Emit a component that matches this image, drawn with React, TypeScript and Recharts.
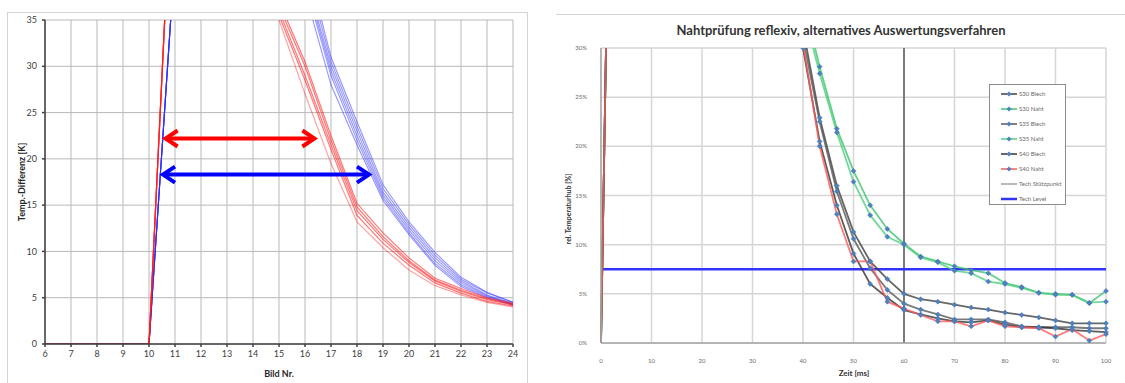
import { CartesianGrid, Legend, Line, LineChart, ReferenceLine, XAxis, YAxis } from "recharts";

// ---- left chart: Temp.-Differenz over Bild Nr.
const bildNr = [6, 7, 8, 9, 10, 11, 12, 13, 14, 15, 16, 17, 18, 19, 20, 21, 22, 23, 24];
const redRuns = [
  [0, 0, 0, 0, 0, 58, 55, 50, 43, 37, 30.5, 22.5, 15.2, 12.0, 9.3, 7.1, 6.0, 5.0, 4.4],
  [0, 0, 0, 0, 0, 58, 54, 49, 42.5, 36.5, 30, 22, 14.8, 11.6, 9.0, 6.9, 5.8, 4.9, 4.3],
  [0, 0, 0, 0, 0, 58, 54, 49, 42, 36, 29, 21.5, 14.4, 11.3, 8.8, 6.8, 5.7, 4.8, 4.2],
  [0, 0, 0, 0, 0, 58, 53.5, 48.5, 41.5, 35.5, 28.5, 21, 13.9, 10.9, 8.5, 6.6, 5.5, 4.6, 4.1],
  [0, 0, 0, 0, 0, 58, 53, 48, 41, 35, 27, 19.5, 13.2, 10.4, 8.0, 6.3, 5.3, 4.5, 4.0],
];
const blueRuns = [
  [0, 0, 0, 0, 0, 42, 46, 49, 50, 47, 42, 31, 24, 17.2, 13.2, 9.9, 7.2, 5.6, 4.5],
  [0, 0, 0, 0, 0, 42, 46, 49, 49.5, 46.5, 41, 30.5, 23.5, 16.8, 12.9, 9.6, 7.0, 5.5, 4.5],
  [0, 0, 0, 0, 0, 42, 46, 48.5, 49, 46, 40, 30, 23, 16.4, 12.6, 9.3, 6.8, 5.3, 4.4],
  [0, 0, 0, 0, 0, 42, 45.5, 48, 48.5, 45.5, 39.5, 29.5, 22.5, 16.1, 12.3, 9.0, 6.6, 5.2, 4.3],
  [0, 0, 0, 0, 0, 42, 45.5, 48, 48, 45, 39, 29, 22, 15.8, 12.0, 8.7, 6.4, 5.1, 4.3],
  [0, 0, 0, 0, 0, 42, 45, 47.5, 47.5, 44, 38, 28, 21.5, 15.5, 11.8, 8.5, 6.2, 5.0, 4.2],
];
const leftYTicks = [0, 5, 10, 15, 20, 25, 30, 35];
const redArrow = { from: 10.6, to: 16.4, level: 22.2 };
const blueArrow = { from: 10.5, to: 18.5, level: 18.3 };

// ---- right chart: rel. Temperaturhub over Zeit
const zeitMs = [0, 3.3, 40, 43.3, 46.7, 50, 53.3, 56.7, 60, 63.3, 66.7, 70, 73.3, 76.7, 80, 83.3, 86.7, 90, 93.3, 96.7, 100];
const s30Blech = [0, 100, 32, 22.9, 16.0, 11.3, 8.3, 6.5, 5.0, 4.45, 4.2, 3.9, 3.6, 3.4, 3.1, 2.85, 2.6, 2.3, 2.0, 2.0, 2.0];
const s30Naht = [0, 100, 35, 28.1, 21.8, 17.5, 14.0, 11.6, 10.1, 8.8, 8.3, 7.8, 7.4, 7.1, 6.1, 5.7, 5.1, 5.0, 4.9, 4.05, 5.3];
const s35Blech = [0, 100, 31, 22.5, 15.4, 10.6, 7.6, 5.4, 4.0, 3.4, 2.9, 2.4, 2.4, 2.4, 2.1, 1.7, 1.6, 1.6, 1.6, 1.5, 1.5];
const s35Naht = [0, 100, 34, 27.4, 21.4, 16.4, 13.0, 10.8, 10.0, 8.7, 8.2, 7.35, 7.1, 6.25, 6.0, 5.6, 5.1, 4.9, 4.9, 4.1, 4.2];
const s40Blech = [0, 100, 30, 20.5, 14.0, 9.1, 6.0, 4.6, 3.35, 2.9, 2.5, 2.2, 2.1, 2.3, 1.9, 1.6, 1.6, 1.5, 1.3, 1.2, 1.1];
const s40Naht = [0, 100, 30.5, 20.0, 13.1, 8.3, 8.3, 4.2, 3.5, 2.85, 2.2, 2.2, 1.7, 2.3, 1.7, 1.6, 1.5, 0.65, 1.4, 0.25, 0.9];
const techLevel = 7.5;
const techStuetzpunkt = 60;
const rightXTicks = [0, 10, 20, 30, 40, 50, 60, 70, 80, 90, 100];
const rightYTicks = [0, 5, 10, 15, 20, 25, 30];

const leftData = bildNr.map((bild, i) => {
  const row: Record<string, number> = { bild };
  redRuns.forEach((r, k) => (row[`r${k}`] = r[i]));
  blueRuns.forEach((b, k) => (row[`b${k}`] = b[i]));
  return row;
});

const rightSeries = [
  { key: "s30b", name: "S30 Blech", values: s30Blech, color: "#404040" },
  { key: "s30n", name: "S30 Naht", values: s30Naht, color: "#3cc46e" },
  { key: "s35b", name: "S35 Blech", values: s35Blech, color: "#595959" },
  { key: "s35n", name: "S35 Naht", values: s35Naht, color: "#4fcf80" },
  { key: "s40b", name: "S40 Blech", values: s40Blech, color: "#333333" },
  { key: "s40n", name: "S40 Naht", values: s40Naht, color: "#ff5a5a" },
];

const rightData = zeitMs.map((t, i) => {
  const row: Record<string, number> = { t };
  rightSeries.forEach((s) => (row[s.key] = s.values[i]));
  return row;
});

const font = "Lato, 'Open Sans', sans-serif";

function arrow(color: string) {
  return (props: any) => {
    const { x1, y1, x2, y2 } = props;
    const hx = 13;
    const hy = 8;
    return (
      <g stroke={color} strokeWidth={4} fill="none" strokeLinejoin="miter">
        <line x1={x1 + 2} y1={y1} x2={x2 - 2} y2={y2} />
        <polyline points={`${x1 + hx},${y1 - hy} ${x1 + 1},${y1} ${x1 + hx},${y1 + hy}`} />
        <polyline points={`${x2 - hx},${y2 - hy} ${x2 - 1},${y2} ${x2 - hx},${y2 + hy}`} />
      </g>
    );
  };
}

function diamond(props: any) {
  const { cx, cy, index, payload } = props;
  if (cx == null || cy == null || payload.t < 30) return <g key={`n${index}`} />;
  return (
    <path
      key={`d${index}`}
      d={`M${cx},${cy - 2.5}L${cx + 2.5},${cy}L${cx},${cy + 2.5}L${cx - 2.5},${cy}Z`}
      fill="#4f81bd"
      stroke="#3f70b8"
      strokeWidth={0.5}
    />
  );
}

const legendItems = [
  ...rightSeries.map((s) => ({ name: s.name, color: s.color, width: 1.5, marker: true })),
  { name: "Tech Stützpunkt", color: "#a0a0a0", width: 1.5, marker: false },
  { name: "Tech Level", color: "#3333ff", width: 2.5, marker: false },
];

function RightLegend() {
  return (
    <div style={{ width: 77, height: 121, boxSizing: "border-box", border: "1px solid #8c8c8c", background: "#fff", paddingTop: 1, paddingLeft: 11 }}>
      {legendItems.map((it) => (
        <div key={it.name} style={{ display: "flex", alignItems: "center", height: 15, fontFamily: font, fontSize: 6, color: "#6a6a6a", whiteSpace: "nowrap" }}>
          <svg width={16} height={8}>
            <line x1={0} y1={4} x2={16} y2={4} stroke={it.color} strokeWidth={it.width} />
            {it.marker && <path d="M8,1.5L10.5,4L8,6.5L5.5,4Z" fill="#4f81bd" />}
          </svg>
          <span style={{ marginLeft: 2 }}>{it.name}</span>
        </div>
      ))}
    </div>
  );
}

function LeftChart() {
  return (
    <div style={{ position: "absolute", left: 7, top: 12, width: 519, height: 380, border: "1px solid #d4d4d4", background: "#fff" }}>
      <LineChart width={517} height={370} data={leftData} margin={{ top: 7, right: 12, left: 0, bottom: 11 }}>
        <CartesianGrid stroke="#b9b9b9" strokeWidth={1} />
        <XAxis
          dataKey="bild"
          type="number"
          domain={[6, 24]}
          ticks={bildNr}
          height={28}
          stroke="#404040"
          strokeWidth={1.5}
          tickSize={3}
          tickMargin={4}
          tick={{ fontSize: 9, fill: "#404040", fontFamily: font }}
          label={{ content: () => <text x={271} y={360} textAnchor="middle" dominantBaseline="central" fontSize={9} fontWeight="bold" fill="#262626" fontFamily={font}>Bild Nr.</text> }}
        />
        <YAxis
          type="number"
          domain={[0, 35]}
          ticks={leftYTicks}
          allowDataOverflow
          width={37}
          stroke="#404040"
          strokeWidth={1.5}
          tickSize={3}
          tickMargin={5}
          tick={{ fontSize: 9, fill: "#404040", fontFamily: font }}
          label={{ content: () => <text x={13} y={169} transform="rotate(-90, 13, 169)" textAnchor="middle" dominantBaseline="central" fontSize={9} fontWeight="bold" fill="#262626" fontFamily={font}>Temp.-Differenz [K]</text> }}
        />
        {blueRuns.map((_, k) => (
          <Line key={`b${k}`} dataKey={`b${k}`} stroke="#2a2aff" strokeOpacity={0.5} strokeWidth={1.1} dot={false} isAnimationActive={false} />
        ))}
        {redRuns.map((_, k) => (
          <Line key={`r${k}`} dataKey={`r${k}`} stroke="#ff1a1a" strokeOpacity={k === 4 ? 0.4 : 0.6} strokeWidth={1.2} dot={false} isAnimationActive={false} />
        ))}
        <ReferenceLine segment={[{ x: redArrow.from, y: redArrow.level }, { x: redArrow.to, y: redArrow.level }]} shape={arrow("#ff0000")} />
        <ReferenceLine segment={[{ x: blueArrow.from, y: blueArrow.level }, { x: blueArrow.to, y: blueArrow.level }]} shape={arrow("#0000ff")} />
      </LineChart>
    </div>
  );
}

function RightChart() {
  return (
    <div style={{ position: "absolute", left: 556, top: 14, width: 569, height: 369, borderTop: "1px solid #d4d4d4", background: "#fff" }}>
      <div style={{ position: "absolute", left: 65, top: 7, width: 440, textAlign: "center", fontFamily: font, fontSize: 13, fontWeight: "bold", color: "#333" }}>
        Nahtprüfung reflexiv, alternatives Auswertungsverfahren
      </div>
      <LineChart width={569} height={368} data={rightData} margin={{ top: 33, right: 19, left: 0, bottom: 10 }}>
        <CartesianGrid stroke="#d6d6d6" strokeWidth={1.5} />
        <XAxis
          dataKey="t"
          type="number"
          domain={[0, 100]}
          ticks={rightXTicks}
          height={30}
          stroke="#a6a6a6"
          strokeWidth={1.5}
          tickLine={false}
          tickMargin={10}
          tick={{ fontSize: 6, fill: "#6a6a6a", fontFamily: font }}
          label={{ content: () => <text x={298} y={358} textAnchor="middle" dominantBaseline="central" fontSize={8} fontWeight="bold" fill="#333" fontFamily={font}>Zeit [ms]</text> }}
        />
        <YAxis
          type="number"
          domain={[0, 30]}
          ticks={rightYTicks}
          allowDataOverflow
          width={45}
          stroke="#a6a6a6"
          strokeWidth={1.5}
          tickLine={false}
          tickMargin={8}
          tickFormatter={(v) => `${v}%`}
          tick={{ fontSize: 6, fill: "#6a6a6a", fontFamily: font }}
          label={{ content: () => <text x={12} y={194} transform="rotate(-90, 12, 194)" textAnchor="middle" dominantBaseline="central" fontSize={7} fontWeight="bold" fill="#333" fontFamily={font}>rel. Temperaturhub [%]</text> }}
        />
        <ReferenceLine x={techStuetzpunkt} stroke="#7a7a7a" strokeWidth={2} />
        <ReferenceLine y={techLevel} stroke="#3333ff" strokeWidth={2.5} />
        {rightSeries.map((s) => (
          <Line
            key={s.key}
            dataKey={s.key}
            name={s.name}
            stroke={s.color}
            strokeOpacity={0.8}
            strokeWidth={1.8}
            dot={diamond}
            activeDot={false}
            isAnimationActive={false}
          />
        ))}
        <Legend
          layout="vertical"
          align="center"
          verticalAlign="middle"
          content={() => <RightLegend />}
          wrapperStyle={{ position: "absolute", left: 433, top: 69, width: 77, height: 121 }}
        />
      </LineChart>
    </div>
  );
}

export default function App() {
  return (
    <div style={{ position: "absolute", left: 0, top: 0, width: 1125, height: 383, overflow: "hidden", background: "#fff" }}>
      <LeftChart />
      <RightChart />
    </div>
  );
}
